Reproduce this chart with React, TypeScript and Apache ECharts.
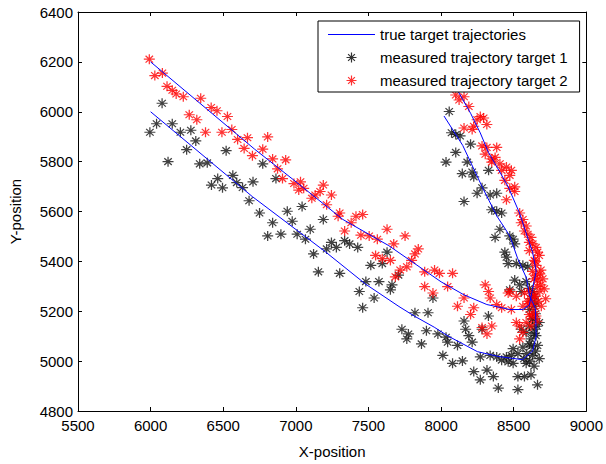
import React, { useEffect, useRef } from 'react';
import * as echarts from 'echarts';

const xRange = [5500, 9000, 500];
const yRange = [4800, 6400, 200];
const legendNames = ['true target trajectories', 'measured trajectory target 1', 'measured trajectory target 2'];

const truePath1 = [
  [6000, 6000], [6700, 5660], [7200, 5440], [7480, 5309], [7710, 5219], [7818, 5180], [7953, 5136],
  [8047, 5101], [8250, 5038], [8400, 5018], [8560, 5006], [8630, 5040], [8655, 5100], [8650, 5210],
  [8608, 5265], [8588, 5333], [8527, 5412], [8473, 5502], [8385, 5581], [8290, 5690], [8203, 5798],
  [8149, 5865], [8020, 5983],
];

const truePath2 = [
  [6000, 6200], [6716, 5850], [6986, 5726], [7324, 5568], [7640, 5463], [8000, 5318], [8157, 5266],
  [8315, 5227], [8473, 5207], [8563, 5207], [8608, 5225], [8630, 5290], [8655, 5360], [8630, 5437],
  [8585, 5515], [8540, 5594], [8462, 5699], [8405, 5758], [8326, 5837], [8270, 5915], [8203, 5994],
  [8124, 6075], [8100, 6100],
];

const measured1 = [
  [5995, 5918], [6041, 5952], [6079, 6034], [6120, 5800], [6149, 5952], [6205, 5918], [6277, 5926],
  [6311, 5883], [6248, 5848], [6338, 5791], [6390, 5795], [6520, 5844], [6462, 5732], [6419, 5706],
  [6495, 5695], [6566, 5745], [6593, 5716], [6633, 5696], [6678, 5643], [6705, 5719],
  [6772, 5791], [6863, 5732], [6750, 5594], [6840, 5555], [6806, 5502], [6897, 5509], [6941, 5601],
  [6975, 5561], [7043, 5620], [7099, 5529], [7009, 5509], [7066, 5489], [7122, 5430], [7189, 5568],
  [7245, 5476], [7212, 5450], [7279, 5456], [7336, 5483], [7370, 5470], [7426, 5456], [7155, 5358],
  [7302, 5352], [7516, 5384], [7628, 5437], [7595, 5391], [7482, 5319], [7572, 5319], [7662, 5306],
  [7651, 5286], [7707, 5345], [7437, 5279], [7539, 5253], [7460, 5214], [7820, 5194], [7910, 5194],
  [7944, 5253],
  [7730, 5128], [7775, 5109], [7764, 5089], [7865, 5069], [7899, 5122], [7978, 5109], [8034, 5096],
  [8045, 5076], [8113, 5063], [8012, 5023], [8079, 4991], [8147, 5001], [8158, 5161], [8169, 5128],
  [8191, 5102], [8214, 5076], [8270, 5017], [8326, 5181], [8282, 5128], [8338, 5023], [8383, 5017],
  [8225, 4958], [8270, 4925], [8316, 4964], [8360, 4938], [8394, 4892],
  [8056, 6001], [8072, 5916], [8101, 5909], [8131, 5903], [8203, 5870], [8101, 5837], [8034, 5798],
  [8180, 5798], [8146, 5752], [8225, 5739], [8214, 5758], [8327, 5765], [8282, 5695],
  [8158, 5640], [8248, 5673], [8338, 5666], [8383, 5673], [8349, 5607], [8383, 5601], [8417, 5594],
  [8405, 5529], [8372, 5496], [8473, 5502], [8496, 5489], [8507, 5470], [8439, 5437], [8450, 5417],
  [8462, 5391], [8518, 5391], [8563, 5384], [8597, 5378], [8507, 5325], [8586, 5319], [8541, 5306],
  [8608, 5292], [8631, 5279], [8552, 5279], [8473, 5286],
  [8417, 5004], [8462, 4997], [8496, 4991], [8496, 5050], [8529, 5030], [8563, 5056], [8608, 5069],
  [8631, 5023], [8676, 5010], [8586, 4991], [8529, 4938], [8574, 4938], [8619, 4945], [8664, 4905],
  [8529, 4886], [8608, 5207], [8631, 5168], [8642, 5128], [8653, 5102], [8619, 5089], [8586, 5115],
  [8552, 5128], [8642, 5260], [8653, 5233], [8676, 5155], [8608, 5141], [8664, 5063], [8484, 5023],
  [8450, 5017],
  [8620, 5250], [8640, 5220], [8650, 5190], [8630, 5170], [8660, 5140], [8640, 5110], [8620, 5060],
  [8650, 5040], [8610, 5000], [8590, 5030], [8570, 5010], [8640, 4980],
];

const measured2 = [
  [5991, 6211], [6029, 6145], [6081, 6155], [6113, 6102], [6149, 6086], [6176, 6071], [6225, 6060],
  [6345, 6054], [6417, 6017], [6457, 6004], [6529, 5981], [6266, 5988], [6318, 5968], [6378, 5918],
  [6491, 5918], [6559, 5929], [6599, 5889], [6667, 5896], [6644, 5853], [6701, 5824],
  [6806, 5899],
  [6772, 5850], [6840, 5811], [6930, 5807], [6874, 5771], [6908, 5732], [6987, 5712], [7032, 5719],
  [7020, 5686], [7054, 5693], [7110, 5653], [7133, 5666], [7189, 5706], [7167, 5680], [7245, 5666],
  [7212, 5627], [7302, 5594], [7291, 5581], [7414, 5581], [7460, 5588], [7381, 5555], [7336, 5522],
  [7448, 5505], [7505, 5502], [7561, 5489], [7628, 5529], [7752, 5502], [7674, 5470], [7549, 5424],
  [7595, 5411], [7651, 5404], [7843, 5450], [7820, 5430], [7797, 5404], [7764, 5378], [7718, 5365],
  [7685, 5338], [7887, 5358], [7955, 5365], [7989, 5352], [7887, 5299], [7944, 5273],
  [8045, 5299], [8158, 5253], [8113, 5220], [8225, 5214], [8338, 5253], [8282, 5135], [8316, 5109],
  [8349, 5141], [8383, 5227], [8203, 5187],
  [8101, 6067], [8124, 6047], [8158, 6060], [8191, 6021], [8270, 5981], [8248, 5968], [8293, 5975],
  [8315, 5949], [8225, 5942], [8158, 5935], [8214, 5929], [8282, 5863], [8315, 5857], [8383, 5857],
  [8304, 5830], [8349, 5811], [8405, 5791], [8450, 5778], [8417, 5765], [8484, 5765], [8473, 5745],
  [8439, 5725], [8507, 5699], [8349, 5798], [8372, 5817],
  [8473, 5693], [8507, 5680], [8450, 5647], [8541, 5594], [8563, 5568], [8552, 5555], [8586, 5542],
  [8574, 5522], [8597, 5509], [8619, 5496], [8608, 5476], [8631, 5470], [8653, 5456], [8664, 5437],
  [8608, 5443], [8676, 5424], [8642, 5404], [8653, 5384], [8687, 5365], [8653, 5345], [8664, 5325],
  [8687, 5306], [8473, 5279], [8079, 5352], [8304, 5306], [8327, 5279],
  [8462, 5273], [8518, 5260], [8574, 5273], [8608, 5279], [8642, 5266], [8597, 5240], [8631, 5227],
  [8563, 5220], [8608, 5187], [8653, 5181], [8518, 5155], [8541, 5141], [8586, 5155], [8619, 5141],
  [8563, 5115], [8541, 5089], [8417, 5214], [8484, 5207],
  [8640, 5330], [8660, 5300], [8680, 5280], [8650, 5260], [8620, 5250], [8670, 5240], [8690, 5220],
  [8640, 5200], [8620, 5180], [8660, 5160], [8600, 5230], [8680, 5350], [8650, 5400], [8630, 5360],
  [8710, 5290], [8720, 5250], [8700, 5330],
];

const STAR = 'path://M5 0L5 10M0 5L10 5M1.6 1.6L8.4 8.4M1.6 8.4L8.4 1.6';
const LINE_ICON = 'path://M0 4.5L47 4.5L47 5.5L0 5.5Z';
const FONT = 'Liberation Sans, Arial, sans-serif';

export default function App() {
  const ref = useRef<HTMLDivElement>(null);
  useEffect(() => {
    if (!ref.current) return;
    const chart = echarts.init(ref.current, null, { renderer: 'svg' });
    const axisBase = {
      type: 'value' as const,
      axisLine: { show: true, onZero: false, lineStyle: { color: '#000', width: 1 } },
      axisTick: { show: true, inside: true, length: 4, lineStyle: { color: '#000', width: 1 } },
      splitLine: { show: false },
    };
    const labelStyle = { color: '#000', fontSize: 15, fontFamily: FONT };
    const plain = (v: number) => String(v);
    chart.setOption({
      animation: false,
      backgroundColor: '#fff',
      grid: { left: 70, right: 18, top: 12, bottom: 46, containLabel: false },
      legend: {
        orient: 'vertical',
        left: 318,
        top: 21,
        padding: [6, 12, 4, 10],
        itemGap: 8,
        itemWidth: 47,
        itemHeight: 10,
        borderColor: '#000',
        borderWidth: 1,
        borderRadius: 0,
        backgroundColor: '#fff',
        z: 10,
        textStyle: { color: '#000', fontSize: 15, fontFamily: FONT },
        data: [
          { name: legendNames[0], icon: LINE_ICON, itemStyle: { color: '#0000ff', borderWidth: 0 } },
          { name: legendNames[1], icon: STAR, itemStyle: { color: 'transparent', borderColor: '#000', borderWidth: 1.2 } },
          { name: legendNames[2], icon: STAR, itemStyle: { color: 'transparent', borderColor: '#ff0000', borderWidth: 1.2 } },
        ],
        selectedMode: false,
      },
      xAxis: [
        {
          ...axisBase,
          min: xRange[0], max: xRange[1], interval: xRange[2],
          position: 'bottom',
          axisLabel: { ...labelStyle, margin: 7, formatter: plain },
          name: 'X-position', nameLocation: 'middle', nameGap: 33,
          nameTextStyle: labelStyle,
        },
        {
          ...axisBase,
          min: xRange[0], max: xRange[1], interval: xRange[2],
          position: 'top',
          axisLabel: { show: false },
        },
      ],
      yAxis: [
        {
          ...axisBase,
          min: yRange[0], max: yRange[1], interval: yRange[2],
          position: 'left',
          axisLabel: { ...labelStyle, margin: 5, formatter: plain },
          name: 'Y-position', nameLocation: 'middle', nameGap: 55,
          nameTextStyle: labelStyle,
        },
        {
          ...axisBase,
          min: yRange[0], max: yRange[1], interval: yRange[2],
          position: 'right',
          axisLabel: { show: false },
        },
      ],
      series: [
        {
          name: legendNames[1], type: 'scatter', data: measured1, symbol: STAR, symbolSize: [11, 10],
          itemStyle: { color: 'transparent', borderColor: '#111', borderWidth: 1.2 }, z: 2,
        },
        {
          name: legendNames[2], type: 'scatter', data: measured2, symbol: STAR, symbolSize: [11, 10],
          itemStyle: { color: 'transparent', borderColor: '#ff0000', borderWidth: 1.2 }, z: 2,
        },
        {
          name: legendNames[0], type: 'line', data: truePath1, showSymbol: false, symbol: 'none',
          lineStyle: { color: '#0000ff', width: 1 }, itemStyle: { color: '#0000ff' }, z: 3,
        },
        {
          name: legendNames[0], type: 'line', data: truePath2, showSymbol: false, symbol: 'none',
          lineStyle: { color: '#0000ff', width: 1 }, itemStyle: { color: '#0000ff' }, z: 3,
        },
      ],
    });
    return () => chart.dispose();
  }, []);
  return <div ref={ref} style={{ position: 'fixed', left: 0, top: 0, width: 606, height: 464 }} />;
}
